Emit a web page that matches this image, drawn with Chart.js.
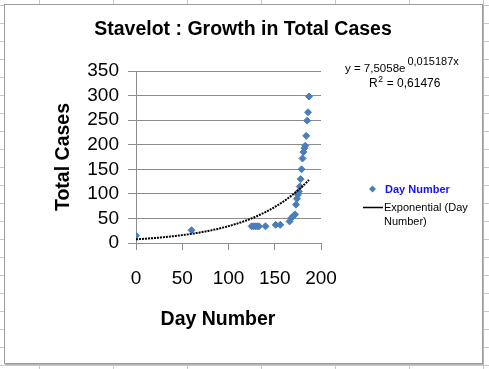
<!DOCTYPE html>
<html>
<head>
<meta charset="utf-8">
<script src="https://cdn.jsdelivr.net/npm/chart.js@4.4.1/dist/chart.umd.min.js"></script>
<style>
html, body { margin: 0; padding: 0; }
body {
    width: 489px; height: 369px; overflow: hidden; position: relative;
    background-color: #fff;
    background-image:
        linear-gradient(to right, #c8c8c8 1px, transparent 1px),
        linear-gradient(to bottom, #c8c8c8 1px, transparent 1px);
    background-size: 74px 18px;
    background-position: 39px 5px;
}
#frame {
    position: absolute; left: 4px; top: 4px; width: 477px; height: 358px;
    border: 1px solid #9c9c9c; background: #fff; box-shadow: 1px 1px 0 #b4b4b4;
}
#chart { position: absolute; left: 0; top: 0; }
</style>
</head>
<body>
<div id="frame"></div>
<canvas id="chart" width="489" height="369"></canvas>
<script>
// data
const dayNumbers = [0, 60, 125, 127, 129, 131, 133, 140, 151, 156, 166, 168, 170, 172, 173, 174, 175, 176, 177, 178, 179, 180, 181, 182, 183, 184, 185, 186, 187];
const totalCases = [15, 26, 34, 34, 34, 34, 34, 34, 37, 37, 44, 51, 55, 58, 78, 90, 98, 105, 115, 130, 150, 172, 185, 193, 198, 218, 249, 266, 298];

const xTickValues = [0, 50, 100, 150, 200];
const yTickValues = [0, 50, 100, 150, 200, 250, 300, 350];

// trendline as printed on the chart: y = 7,5058e^0,015187x, R2 = 0,61476
const trendA = 7.5058;
const trendB = 0.015187;
const trendR2 = 0.61476;

const chartTitle = 'Stavelot : Growth in Total Cases';
const xTitle = 'Day Number';
const yTitle = 'Total Cases';
const seriesName = 'Day Number';
const trendName = 'Exponential (Day Number)';

const FONT = '"Liberation Sans", Arial, sans-serif';
const markerColor = '#4a7ebb';
const axisGray = '#8c8c8c';

// trend line drawn over the range of the data
const trendPoints = [];
for (let d = dayNumbers[0]; d <= dayNumbers[dayNumbers.length - 1]; d++) {
    trendPoints.push({ x: d, y: trendA * Math.exp(trendB * d) });
}

function fmt(v) {
    return String(v).replace('.', ',');
}

// title, x axis title, equation and legend placed like in Excel
const extras = {
    id: 'extras',
    afterDraw(chart) {
        const ctx = chart.ctx;
        ctx.save();
        ctx.fillStyle = '#000';
        ctx.textBaseline = 'alphabetic';

        ctx.font = 'bold 19.5px ' + FONT;
        ctx.textAlign = 'center';
        ctx.fillText(chartTitle, 243, 34.5);
        ctx.fillText(xTitle, 218, 325);

        // equation
        ctx.textAlign = 'left';
        ctx.font = '11.5px ' + FONT;
        const eq = 'y = ' + fmt(trendA) + 'e';
        ctx.fillText(eq, 345, 72);
        const w1 = ctx.measureText(eq).width;
        ctx.font = '11px ' + FONT;
        ctx.fillText(fmt(trendB) + 'x', 345 + w1 + 2, 65);

        ctx.font = '12px ' + FONT;
        ctx.fillText('R', 369, 87);
        const wr = ctx.measureText('R').width;
        ctx.font = '8.5px ' + FONT;
        ctx.fillText('2', 369 + wr + 0.5, 81.5);
        const w2 = ctx.measureText('2').width;
        ctx.font = '12px ' + FONT;
        ctx.fillText(' = ' + fmt(trendR2), 369 + wr + w2 + 1, 87);

        // legend
        ctx.fillStyle = markerColor;
        ctx.beginPath();
        ctx.moveTo(372.5, 185.5);
        ctx.lineTo(376, 189);
        ctx.lineTo(372.5, 192.5);
        ctx.lineTo(369, 189);
        ctx.closePath();
        ctx.fill();

        ctx.fillStyle = '#1414f0';
        ctx.font = 'bold 11px ' + FONT;
        ctx.textBaseline = 'middle';
        ctx.fillText(seriesName, 385, 189.5);

        ctx.strokeStyle = '#000';
        ctx.lineWidth = 1.5;
        ctx.beginPath();
        ctx.moveTo(363, 207.5);
        ctx.lineTo(383, 207.5);
        ctx.stroke();

        ctx.fillStyle = '#000';
        ctx.font = '11px ' + FONT;
        const cut = trendName.lastIndexOf(' ');
        ctx.fillText(trendName.slice(0, cut), 384, 208);
        ctx.fillText(trendName.slice(cut + 1), 384, 221.5);
        ctx.restore();
    }
};

new Chart(document.getElementById('chart'), {
    type: 'scatter',
    data: {
        datasets: [
            {
                label: seriesName,
                data: dayNumbers.map((d, i) => ({ x: d, y: totalCases[i] })),
                pointStyle: 'rectRot',
                pointRadius: 3.5,
                pointBorderWidth: 1,
                backgroundColor: markerColor,
                borderColor: markerColor,
                order: 1
            },
            {
                label: trendName,
                type: 'line',
                data: trendPoints,
                borderColor: '#000',
                borderWidth: 2,
                borderDash: [2, 1],
                pointRadius: 0,
                fill: false,
                order: 0
            }
        ]
    },
    options: {
        responsive: false,
        animation: false,
        layout: { padding: { left: 0, right: 168, top: 71, bottom: 0 } },
        plugins: {
            legend: { display: false },
            tooltip: { enabled: false },
            title: { display: false }
        },
        scales: {
            x: {
                type: 'linear',
                min: xTickValues[0],
                max: xTickValues[xTickValues.length - 1],
                afterBuildTicks: s => { s.ticks = xTickValues.map(v => ({ value: v })); },
                afterFit: s => { s.height = 126; },
                ticks: { color: '#000', font: { family: FONT, size: 19 }, padding: 17, maxRotation: 0, autoSkip: false },
                grid: { drawOnChartArea: false, drawTicks: true, tickLength: 7, color: axisGray },
                border: { color: axisGray }
            },
            y: {
                min: yTickValues[0],
                max: yTickValues[yTickValues.length - 1],
                afterBuildTicks: s => { s.ticks = yTickValues.map(v => ({ value: v })); },
                afterFit: s => { s.width = 136; },
                ticks: { color: '#000', font: { family: FONT, size: 19 }, padding: 9, autoSkip: false },
                grid: { color: axisGray, tickLength: 8 },
                border: { color: axisGray },
                title: {
                    display: true,
                    text: yTitle,
                    color: '#000',
                    font: { family: FONT, size: 19.5, weight: 'bold' },
                    padding: { top: 52, bottom: 0 }
                }
            }
        }
    },
    plugins: [extras]
});
</script>
</body>
</html>
